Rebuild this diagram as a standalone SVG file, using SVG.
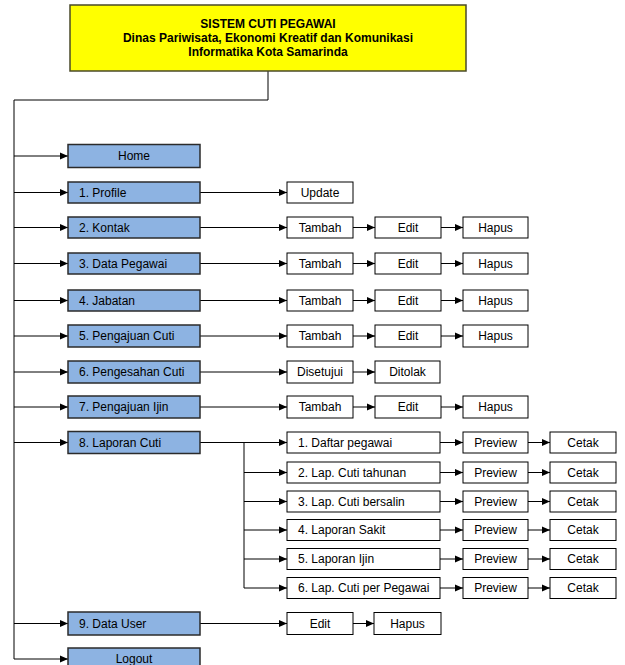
<svg xmlns="http://www.w3.org/2000/svg" width="625" height="665" viewBox="0 0 625 665">
<style>
.title{font-family:"Liberation Sans",Arial,sans-serif;font-size:12px;font-weight:bold;fill:#000;text-anchor:middle}
.t{font-family:"Liberation Sans",Arial,sans-serif;font-size:12px;fill:#000;dominant-baseline:central}
.c{text-anchor:middle}
.main{fill:#8DB3E2;stroke:#2b2b2b;stroke-width:1.5}
.sub{fill:#fff;stroke:#000;stroke-width:1}
.top{fill:#FFFF00;stroke:#4a4a2a;stroke-width:1.5}
.ln{fill:none;stroke:#000;stroke-width:1}
</style>
<defs>
<marker id="ah" markerUnits="userSpaceOnUse" markerWidth="9" markerHeight="8" refX="8" refY="4" orient="auto">
<path d="M0,0.5 L8,4 L0,7.5 Z" fill="#000"/>
</marker>
</defs>
<rect width="625" height="665" fill="#fff"/>

<g id="connectors">
<polyline class="ln" points="268,71 268,100 14,100 14,659"/>
<line class="ln" x1="14" y1="156" x2="68" y2="156" marker-end="url(#ah)"/>
<line class="ln" x1="14" y1="192.5" x2="68" y2="192.5" marker-end="url(#ah)"/>
<line class="ln" x1="14" y1="227.5" x2="68" y2="227.5" marker-end="url(#ah)"/>
<line class="ln" x1="14" y1="263.5" x2="68" y2="263.5" marker-end="url(#ah)"/>
<line class="ln" x1="14" y1="300.5" x2="68" y2="300.5" marker-end="url(#ah)"/>
<line class="ln" x1="14" y1="336" x2="68" y2="336" marker-end="url(#ah)"/>
<line class="ln" x1="14" y1="372" x2="68" y2="372" marker-end="url(#ah)"/>
<line class="ln" x1="14" y1="407" x2="68" y2="407" marker-end="url(#ah)"/>
<line class="ln" x1="14" y1="442.5" x2="68" y2="442.5" marker-end="url(#ah)"/>
<line class="ln" x1="14" y1="623.5" x2="68" y2="623.5" marker-end="url(#ah)"/>
<line class="ln" x1="14" y1="659" x2="68" y2="659" marker-end="url(#ah)"/>

<line class="ln" x1="200" y1="192.5" x2="287" y2="192.5" marker-end="url(#ah)"/>
<line class="ln" x1="200" y1="227.5" x2="287" y2="227.5" marker-end="url(#ah)"/>
<line class="ln" x1="353" y1="227.5" x2="375" y2="227.5" marker-end="url(#ah)"/>
<line class="ln" x1="441" y1="227.5" x2="463" y2="227.5" marker-end="url(#ah)"/>
<line class="ln" x1="200" y1="263.5" x2="287" y2="263.5" marker-end="url(#ah)"/>
<line class="ln" x1="353" y1="263.5" x2="375" y2="263.5" marker-end="url(#ah)"/>
<line class="ln" x1="441" y1="263.5" x2="463" y2="263.5" marker-end="url(#ah)"/>
<line class="ln" x1="200" y1="300.5" x2="287" y2="300.5" marker-end="url(#ah)"/>
<line class="ln" x1="353" y1="300.5" x2="375" y2="300.5" marker-end="url(#ah)"/>
<line class="ln" x1="441" y1="300.5" x2="463" y2="300.5" marker-end="url(#ah)"/>
<line class="ln" x1="200" y1="336" x2="287" y2="336" marker-end="url(#ah)"/>
<line class="ln" x1="353" y1="336" x2="375" y2="336" marker-end="url(#ah)"/>
<line class="ln" x1="441" y1="336" x2="463" y2="336" marker-end="url(#ah)"/>
<line class="ln" x1="200" y1="372" x2="287" y2="372" marker-end="url(#ah)"/>
<line class="ln" x1="353" y1="372" x2="375" y2="372" marker-end="url(#ah)"/>
<line class="ln" x1="200" y1="407" x2="287" y2="407" marker-end="url(#ah)"/>
<line class="ln" x1="353" y1="407" x2="375" y2="407" marker-end="url(#ah)"/>
<line class="ln" x1="441" y1="407" x2="463" y2="407" marker-end="url(#ah)"/>

<line class="ln" x1="200" y1="442.5" x2="287" y2="442.5" marker-end="url(#ah)"/>
<polyline class="ln" points="244,442.5 244,588"/>
<line class="ln" x1="244" y1="472.5" x2="287" y2="472.5" marker-end="url(#ah)"/>
<line class="ln" x1="244" y1="501.5" x2="287" y2="501.5" marker-end="url(#ah)"/>
<line class="ln" x1="244" y1="530" x2="287" y2="530" marker-end="url(#ah)"/>
<line class="ln" x1="244" y1="559" x2="287" y2="559" marker-end="url(#ah)"/>
<line class="ln" x1="244" y1="588" x2="287" y2="588" marker-end="url(#ah)"/>
<line class="ln" x1="440" y1="442.5" x2="463" y2="442.5" marker-end="url(#ah)"/>
<line class="ln" x1="440" y1="472.5" x2="463" y2="472.5" marker-end="url(#ah)"/>
<line class="ln" x1="440" y1="501.5" x2="463" y2="501.5" marker-end="url(#ah)"/>
<line class="ln" x1="440" y1="530" x2="463" y2="530" marker-end="url(#ah)"/>
<line class="ln" x1="440" y1="559" x2="463" y2="559" marker-end="url(#ah)"/>
<line class="ln" x1="440" y1="588" x2="463" y2="588" marker-end="url(#ah)"/>
<line class="ln" x1="528" y1="442.5" x2="550" y2="442.5" marker-end="url(#ah)"/>
<line class="ln" x1="528" y1="472.5" x2="550" y2="472.5" marker-end="url(#ah)"/>
<line class="ln" x1="528" y1="501.5" x2="550" y2="501.5" marker-end="url(#ah)"/>
<line class="ln" x1="528" y1="530" x2="550" y2="530" marker-end="url(#ah)"/>
<line class="ln" x1="528" y1="559" x2="550" y2="559" marker-end="url(#ah)"/>
<line class="ln" x1="528" y1="588" x2="550" y2="588" marker-end="url(#ah)"/>

<line class="ln" x1="200" y1="623.5" x2="287" y2="623.5" marker-end="url(#ah)"/>
<line class="ln" x1="353" y1="623.5" x2="374" y2="623.5" marker-end="url(#ah)"/>
</g>

<g id="root">
<rect class="top" x="70" y="5" width="396" height="66"/>
<text class="title" x="268" y="28">SISTEM CUTI PEGAWAI</text>
<text class="title" x="268" y="41.5">Dinas Pariwisata, Ekonomi Kreatif dan Komunikasi</text>
<text class="title" x="268" y="56">Informatika Kota Samarinda</text>
</g>

<g id="home"><rect class="main" x="68" y="144.5" width="132" height="23"/><text class="t c" x="134" y="156">Home</text></g>
<g id="profile"><rect class="main" x="68" y="182" width="132" height="21"/><text class="t" x="79" y="192.5">1. Profile</text></g>
<g id="kontak"><rect class="main" x="68" y="217" width="132" height="21"/><text class="t" x="79" y="227.5">2. Kontak</text></g>
<g id="datapegawai"><rect class="main" x="68" y="253" width="132" height="21"/><text class="t" x="79" y="263.5">3. Data Pegawai</text></g>
<g id="jabatan"><rect class="main" x="68" y="290" width="132" height="21"/><text class="t" x="79" y="300.5">4. Jabatan</text></g>
<g id="pengajuancuti"><rect class="main" x="68" y="325" width="132" height="22"/><text class="t" x="79" y="336">5. Pengajuan Cuti</text></g>
<g id="pengesahancuti"><rect class="main" x="68" y="361" width="132" height="22"/><text class="t" x="79" y="372">6. Pengesahan Cuti</text></g>
<g id="pengajuanijin"><rect class="main" x="68" y="396" width="132" height="22"/><text class="t" x="79" y="407">7. Pengajuan Ijin</text></g>
<g id="laporancuti"><rect class="main" x="68" y="431.5" width="132" height="22"/><text class="t" x="79" y="442.5">8. Laporan Cuti</text></g>
<g id="datauser"><rect class="main" x="68" y="612" width="132" height="23"/><text class="t" x="79" y="623.5">9. Data User</text></g>
<g id="logout"><rect class="main" x="68" y="648" width="132" height="22"/><text class="t c" x="134" y="659">Logout</text></g>

<g id="profile-update"><rect class="sub" x="287" y="182" width="66" height="21"/><text class="t c" x="320" y="192.5">Update</text></g>

<g id="kontak-tambah"><rect class="sub" x="287" y="217" width="66" height="21"/><text class="t c" x="320" y="227.5">Tambah</text></g>
<g id="kontak-edit"><rect class="sub" x="375" y="217" width="66" height="21"/><text class="t c" x="408" y="227.5">Edit</text></g>
<g id="kontak-hapus"><rect class="sub" x="463" y="217" width="65" height="21"/><text class="t c" x="495.5" y="227.5">Hapus</text></g>

<g id="pegawai-tambah"><rect class="sub" x="287" y="253" width="66" height="21"/><text class="t c" x="320" y="263.5">Tambah</text></g>
<g id="pegawai-edit"><rect class="sub" x="375" y="253" width="66" height="21"/><text class="t c" x="408" y="263.5">Edit</text></g>
<g id="pegawai-hapus"><rect class="sub" x="463" y="253" width="65" height="21"/><text class="t c" x="495.5" y="263.5">Hapus</text></g>

<g id="jabatan-tambah"><rect class="sub" x="287" y="290" width="66" height="21"/><text class="t c" x="320" y="300.5">Tambah</text></g>
<g id="jabatan-edit"><rect class="sub" x="375" y="290" width="66" height="21"/><text class="t c" x="408" y="300.5">Edit</text></g>
<g id="jabatan-hapus"><rect class="sub" x="463" y="290" width="65" height="21"/><text class="t c" x="495.5" y="300.5">Hapus</text></g>

<g id="cuti-tambah"><rect class="sub" x="287" y="325" width="66" height="22"/><text class="t c" x="320" y="336">Tambah</text></g>
<g id="cuti-edit"><rect class="sub" x="375" y="325" width="66" height="22"/><text class="t c" x="408" y="336">Edit</text></g>
<g id="cuti-hapus"><rect class="sub" x="463" y="325" width="65" height="22"/><text class="t c" x="495.5" y="336">Hapus</text></g>

<g id="pengesahan-disetujui"><rect class="sub" x="287" y="361" width="66" height="22"/><text class="t c" x="320" y="372">Disetujui</text></g>
<g id="pengesahan-ditolak"><rect class="sub" x="375" y="361" width="65" height="22"/><text class="t c" x="407.5" y="372">Ditolak</text></g>

<g id="ijin-tambah"><rect class="sub" x="287" y="396" width="66" height="22"/><text class="t c" x="320" y="407">Tambah</text></g>
<g id="ijin-edit"><rect class="sub" x="375" y="396" width="66" height="22"/><text class="t c" x="408" y="407">Edit</text></g>
<g id="ijin-hapus"><rect class="sub" x="463" y="396" width="65" height="22"/><text class="t c" x="495.5" y="407">Hapus</text></g>

<g id="lap1"><rect class="sub" x="287" y="432" width="153" height="21"/><text class="t" x="298" y="442.5">1. Daftar pegawai</text></g>
<g id="lap1-preview"><rect class="sub" x="463" y="432" width="65" height="21"/><text class="t c" x="495.5" y="442.5">Preview</text></g>
<g id="lap1-cetak"><rect class="sub" x="550" y="432" width="66" height="21"/><text class="t c" x="583" y="442.5">Cetak</text></g>

<g id="lap2"><rect class="sub" x="287" y="462" width="153" height="21"/><text class="t" x="298" y="472.5">2. Lap. Cuti tahunan</text></g>
<g id="lap2-preview"><rect class="sub" x="463" y="462" width="65" height="21"/><text class="t c" x="495.5" y="472.5">Preview</text></g>
<g id="lap2-cetak"><rect class="sub" x="550" y="462" width="66" height="21"/><text class="t c" x="583" y="472.5">Cetak</text></g>

<g id="lap3"><rect class="sub" x="287" y="491" width="153" height="21"/><text class="t" x="298" y="501.5">3. Lap. Cuti bersalin</text></g>
<g id="lap3-preview"><rect class="sub" x="463" y="491" width="65" height="21"/><text class="t c" x="495.5" y="501.5">Preview</text></g>
<g id="lap3-cetak"><rect class="sub" x="550" y="491" width="66" height="21"/><text class="t c" x="583" y="501.5">Cetak</text></g>

<g id="lap4"><rect class="sub" x="287" y="519.5" width="153" height="21"/><text class="t" x="298" y="530">4. Laporan Sakit</text></g>
<g id="lap4-preview"><rect class="sub" x="463" y="519.5" width="65" height="21"/><text class="t c" x="495.5" y="530">Preview</text></g>
<g id="lap4-cetak"><rect class="sub" x="550" y="519.5" width="66" height="21"/><text class="t c" x="583" y="530">Cetak</text></g>

<g id="lap5"><rect class="sub" x="287" y="548.5" width="153" height="21"/><text class="t" x="298" y="559">5. Laporan Ijin</text></g>
<g id="lap5-preview"><rect class="sub" x="463" y="548.5" width="65" height="21"/><text class="t c" x="495.5" y="559">Preview</text></g>
<g id="lap5-cetak"><rect class="sub" x="550" y="548.5" width="66" height="21"/><text class="t c" x="583" y="559">Cetak</text></g>

<g id="lap6"><rect class="sub" x="287" y="577.5" width="153" height="21"/><text class="t" x="298" y="588">6. Lap. Cuti per Pegawai</text></g>
<g id="lap6-preview"><rect class="sub" x="463" y="577.5" width="65" height="21"/><text class="t c" x="495.5" y="588">Preview</text></g>
<g id="lap6-cetak"><rect class="sub" x="550" y="577.5" width="66" height="21"/><text class="t c" x="583" y="588">Cetak</text></g>

<g id="user-edit"><rect class="sub" x="287" y="612.5" width="66" height="22"/><text class="t c" x="320" y="623.5">Edit</text></g>
<g id="user-hapus"><rect class="sub" x="374" y="612.5" width="67" height="22"/><text class="t c" x="407.5" y="623.5">Hapus</text></g>
</svg>
